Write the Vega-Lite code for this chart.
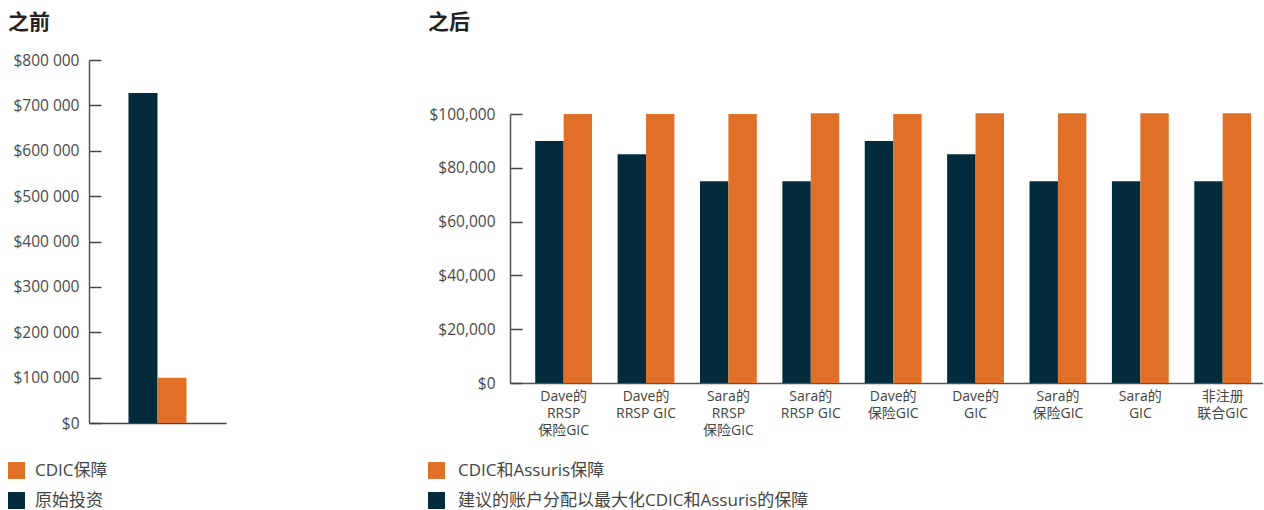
{
  "$schema": "https://vega.github.io/schema/vega-lite/v6.json",
  "padding": {"left": 8, "top": 12, "right": 0, "bottom": 0},
  "spacing": 202,
  "config": {
    "font": "Open Sans, Noto Sans CJK SC",
    "view": {"stroke": null},
    "axis": {"labelFont": "Open Sans, Noto Sans CJK SC", "labelColor": "#4a4a4a", "grid": false, "domainColor": "#555", "tickColor": "#444", "domainWidth": 1.5, "tickWidth": 1.5},
    "legend": {"labelFont": "Open Sans, Noto Sans CJK SC", "labelFontSize": 17, "labelColor": "#444", "labelLimit": 0, "symbolType": "square", "symbolSize": 289, "symbolStrokeWidth": 0, "symbolOpacity": 1, "rowPadding": 12, "labelOffset": 13, "direction": "vertical", "orient": "none", "title": null},
    "title": {"font": "Noto Sans CJK SC", "fontSize": 21, "fontWeight": "bold", "color": "#222", "anchor": "start"}
  },
  "resolve": {"scale": {"color": "independent", "y": "independent", "x": "independent", "xOffset": "independent"}, "legend": {"color": "independent"}},
  "hconcat": [
    {
      "title": {"text": "之前", "offset": 20},
      "width": 137,
      "height": 363,
      "data": {"values": [
        {"group": "之前", "series": "原始投资", "value": 727000},
        {"group": "之前", "series": "CDIC保障", "value": 100000}
      ]},
      "mark": {"type": "bar"},
      "encoding": {
        "x": {"field": "group", "type": "nominal", "scale": {"paddingInner": 0, "paddingOuter": 0.68}, "axis": {"labels": false, "ticks": false, "title": null, "domainColor": "#444"}},
        "xOffset": {"field": "series", "type": "nominal", "sort": ["原始投资", "CDIC保障"], "scale": {"paddingInner": 0}},
        "y": {"field": "value", "type": "quantitative", "scale": {"domain": [0, 800000]}, "axis": {"title": null, "values": [0, 100000, 200000, 300000, 400000, 500000, 600000, 700000, 800000], "labelExpr": "'$' + replace(format(datum.value, ','), ',', ' ')", "labelFontSize": 15.5, "tickSize": -12, "labelPadding": 22}},
        "color": {"field": "series", "type": "nominal", "scale": {"domain": ["CDIC保障", "原始投资"], "range": ["#e07027", "#022c3c"]}, "legend": {"legendX": -81, "legendY": 402, "labelOffset": 10}}
      }
    },
    {
      "title": {"text": "之后", "offset": 27},
      "width": 753,
      "height": 323,
      "data": {"values": [
        {"account": "Dave的\nRRSP\n保险GIC", "series": "建议的账户分配以最大化CDIC和Assuris的保障", "value": 90000},
        {"account": "Dave的\nRRSP\n保险GIC", "series": "CDIC和Assuris保障", "value": 100000},
        {"account": "Dave的\nRRSP GIC", "series": "建议的账户分配以最大化CDIC和Assuris的保障", "value": 85000},
        {"account": "Dave的\nRRSP GIC", "series": "CDIC和Assuris保障", "value": 100000},
        {"account": "Sara的\nRRSP\n保险GIC", "series": "建议的账户分配以最大化CDIC和Assuris的保障", "value": 75000},
        {"account": "Sara的\nRRSP\n保险GIC", "series": "CDIC和Assuris保障", "value": 100000},
        {"account": "Sara的\nRRSP GIC", "series": "建议的账户分配以最大化CDIC和Assuris的保障", "value": 75000},
        {"account": "Sara的\nRRSP GIC", "series": "CDIC和Assuris保障", "value": 100300},
        {"account": "Dave的\n保险GIC", "series": "建议的账户分配以最大化CDIC和Assuris的保障", "value": 90000},
        {"account": "Dave的\n保险GIC", "series": "CDIC和Assuris保障", "value": 100000},
        {"account": "Dave的\nGIC", "series": "建议的账户分配以最大化CDIC和Assuris的保障", "value": 85000},
        {"account": "Dave的\nGIC", "series": "CDIC和Assuris保障", "value": 100300},
        {"account": "Sara的\n保险GIC", "series": "建议的账户分配以最大化CDIC和Assuris的保障", "value": 75000},
        {"account": "Sara的\n保险GIC", "series": "CDIC和Assuris保障", "value": 100300},
        {"account": "Sara的\nGIC", "series": "建议的账户分配以最大化CDIC和Assuris的保障", "value": 75000},
        {"account": "Sara的\nGIC", "series": "CDIC和Assuris保障", "value": 100300},
        {"account": "非注册\n联合GIC", "series": "建议的账户分配以最大化CDIC和Assuris的保障", "value": 75000},
        {"account": "非注册\n联合GIC", "series": "CDIC和Assuris保障", "value": 100300}
      ]},
      "mark": {"type": "bar"},
      "encoding": {
        "x": {"field": "account", "type": "nominal", "sort": null, "scale": {"paddingInner": 0.31, "paddingOuter": 0.225, "align": 0.68}, "axis": {"title": null, "ticks": false, "labelAngle": 0, "labelExpr": "split(datum.label, '\\n')", "labelFontSize": 14, "labelLineHeight": 17, "labelPadding": 6, "labelColor": "#444", "domainColor": "#555"}},
        "xOffset": {"field": "series", "type": "nominal", "sort": ["建议的账户分配以最大化CDIC和Assuris的保障", "CDIC和Assuris保障"], "scale": {"paddingInner": 0}},
        "y": {"field": "value", "type": "quantitative", "scale": {"domain": [0, 100000], "range": [323, 54]}, "axis": {"title": null, "values": [0, 20000, 40000, 60000, 80000, 100000], "format": "$,.0f", "labelFontSize": 15.5, "tickSize": -12, "labelPadding": 27}},
        "color": {"field": "series", "type": "nominal", "scale": {"domain": ["CDIC和Assuris保障", "建议的账户分配以最大化CDIC和Assuris的保障"], "range": ["#e07027", "#022c3c"]}, "legend": {"legendX": -82, "legendY": 402}}
      }
    }
  ]
}
